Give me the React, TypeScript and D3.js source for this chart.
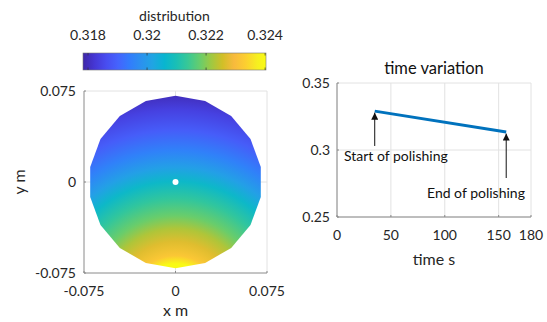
import React from "react";
import * as d3 from "d3";

// ---------- data ----------
// parula colormap anchors (MATLAB)
const parulaPos = [0, 4, 8, 12, 16, 20, 24, 28, 32, 36, 40, 44, 48, 52, 56, 60, 63].map((i) => i / 63);
const parulaRGB: [number, number, number][] = [
  [0.2422, 0.1504, 0.6603],
  [0.2706, 0.2147, 0.8364],
  [0.2813, 0.3006, 0.9414],
  [0.2699, 0.3892, 0.9906],
  [0.1963, 0.4847, 0.9892],
  [0.1687, 0.5703, 0.9359],
  [0.1248, 0.6459, 0.8883],
  [0.0297, 0.7082, 0.8163],
  [0.0964, 0.75, 0.712],
  [0.2161, 0.7843, 0.5923],
  [0.3909, 0.8029, 0.4354],
  [0.6174, 0.7876, 0.2612],
  [0.8203, 0.7498, 0.1535],
  [0.9728, 0.7298, 0.2394],
  [0.9892, 0.8136, 0.1885],
  [0.9628, 0.9373, 0.1265],
  [0.9769, 0.9839, 0.0805],
];

// colour limits of the distribution
const colorLimits = [0.31783, 0.32403];
const colorbarTicks = [0.318, 0.32, 0.322, 0.324];
const colorbarTickLabels = ["0.318", "0.32", "0.322", "0.324"];

// distribution field: value vs distance from the field's peak point (below the pad)
const fieldPeak = [0, -0.1];
const fieldDist = [0.029, 0.0324, 0.039, 0.0505, 0.0613, 0.072, 0.086, 0.1, 0.1115, 0.1256, 0.142, 0.1585, 0.171];
const fieldValue = [0.324, 0.324, 0.3232, 0.3227, 0.3223, 0.3218, 0.3213, 0.3207, 0.3201, 0.3195, 0.3189, 0.3184, 0.318];
const padRadius = 0.071;
const padSides = 18;

const mapTicks = [-0.075, 0, 0.075];
const mapTickLabels = ["-0.075", "0", "0.075"];

// time variation
const timeS = [35, 157];
const timeValue = [0.329, 0.3134];
const timeXTicks = [0, 50, 100, 150, 180];
const timeYTicks = [0.25, 0.3, 0.35];
const timeYTickLabels = ["0.25", "0.3", "0.35"];
const annotLabels = ["Start of polishing", "End of polishing"];
const annotTime = [35, 157];
const annotTail = [0.303, 0.2791];

// ---------- helpers ----------
const cmapScale = d3
  .scaleLinear<string>()
  .domain(parulaPos)
  .range(parulaRGB.map(([r, g, b]) => d3.rgb(r * 255, g * 255, b * 255).formatHex()))
  .interpolate(d3.interpolateRgb);
const valueToT = d3.scaleLinear().domain(colorLimits).range([0, 1]).clamp(true);
const colorOf = (v: number) => cmapScale(valueToT(v));

const FONT = "Lato, 'Open Sans', sans-serif";
const TXT = "#262626";
const AX = "#8a8a8a";
const GRID = "#e2e2e2";

export default function App() {
  // left map axes
  const mx = d3.scaleLinear().domain([-0.075, 0.075]).range([84, 267]);
  const my = d3.scaleLinear().domain([-0.075, 0.075]).range([273, 91]);

  // colorbar
  const cb = d3.scaleLinear().domain(colorLimits).range([83, 266]);
  const cbTop = 53, cbBot = 70;

  // right axes
  const tx = d3.scaleLinear().domain([0, 180]).range([337, 531]);
  const ty = d3.scaleLinear().domain([0.25, 0.35]).range([217, 83]);

  const polygon = d3.range(padSides).map((i) => {
    const a = Math.PI / 2 + (i * 2 * Math.PI) / padSides;
    return [mx(padRadius * Math.cos(a)), my(padRadius * Math.sin(a))];
  });
  const polyStr = polygon.map((p) => p.join(",")).join(" ");

  const gcx = mx(fieldPeak[0]);
  const gcy = my(fieldPeak[1]);
  const maxD = fieldDist[fieldDist.length - 1];
  const gr = mx(maxD) - mx(0);

  const line = d3
    .line<number>()
    .x((_, i) => tx(timeS[i]))
    .y((d) => ty(d));

  return (
    <svg
      width={547}
      height={322}
      style={{ position: "fixed", left: 0, top: 0, background: "#fff" }}
      fontFamily={FONT}
    >
      <defs>
        <radialGradient id="field" gradientUnits="userSpaceOnUse" cx={gcx} cy={gcy} r={gr}>
          {fieldDist.map((d, i) => (
            <stop key={i} offset={d / maxD} stopColor={colorOf(fieldValue[i])} />
          ))}
        </radialGradient>
        <linearGradient id="cbar" x1="0" x2="1" y1="0" y2="0">
          {parulaPos.map((p, i) => (
            <stop key={i} offset={p} stopColor={cmapScale(p)} />
          ))}
        </linearGradient>
        <marker id="ah" viewBox="0 0 10 10" refX="10" refY="5" markerWidth="7" markerHeight="7" orient="auto-start-reverse" markerUnits="userSpaceOnUse">
          <path d="M0,0 L10,5 L0,10 z" fill="#111" />
        </marker>
      </defs>

      {/* colorbar */}
      <text x={(cb.range()[0] + cb.range()[1]) / 2} y={21} fontSize={14} fill={TXT} textAnchor="middle">
        distribution
      </text>
      <rect x={cb.range()[0]} y={cbTop} width={cb.range()[1] - cb.range()[0]} height={cbBot - cbTop} fill="url(#cbar)" stroke="#777" strokeWidth={0.6} />
      {colorbarTicks.map((t, i) => (
        <g key={i}>
          <line x1={cb(t)} x2={cb(t)} y1={cbTop} y2={cbTop + 2.5} stroke="#333" strokeWidth={0.7} />
          <line x1={cb(t)} x2={cb(t)} y1={cbBot} y2={cbBot - 2.5} stroke="#333" strokeWidth={0.7} />
          <text x={cb(t)} y={40} fontSize={14} fill={TXT} textAnchor="middle">
            {colorbarTickLabels[i]}
          </text>
        </g>
      ))}

      {/* left map axes */}
      <line x1={mx(0)} x2={mx(0)} y1={my(0.075)} y2={my(-0.075)} stroke={GRID} />
      <line x1={mx(-0.075)} x2={mx(0.075)} y1={my(0)} y2={my(0)} stroke={GRID} />
      <line x1={mx(-0.075)} x2={mx(0.075)} y1={my(0.075)} y2={my(0.075)} stroke={GRID} />
      <line x1={mx(0.075)} x2={mx(0.075)} y1={my(0.075)} y2={my(-0.075)} stroke={GRID} />
      <polygon points={polyStr} fill="url(#field)" />
      <circle cx={mx(0)} cy={my(0)} r={3} fill="#fff" />
      <line x1={mx(-0.075)} x2={mx(-0.075)} y1={my(0.075)} y2={my(-0.075)} stroke={AX} />
      <line x1={mx(-0.075)} x2={mx(0.075)} y1={my(-0.075)} y2={my(-0.075)} stroke={AX} />
      {mapTicks.map((t, i) => (
        <g key={i}>
          <line x1={mx(-0.075)} x2={mx(-0.075) + 2} y1={my(t)} y2={my(t)} stroke={AX} />
          <line x1={mx(t)} x2={mx(t)} y1={my(-0.075)} y2={my(-0.075) - 2} stroke={AX} />
          <text x={76} y={my(t)} dy="0.35em" fontSize={14} fill={TXT} textAnchor="end">
            {mapTickLabels[i]}
          </text>
          <text x={mx(t)} y={291} dy="0.35em" fontSize={14} fill={TXT} textAnchor="middle">
            {mapTickLabels[i]}
          </text>
        </g>
      ))}
      <text x={mx(0)} y={310} dy="0.35em" fontSize={16} fill={TXT} textAnchor="middle">
        x m
      </text>
      <text transform={`translate(19,${my(0)}) rotate(-90)`} dy="0.35em" fontSize={16} fill={TXT} textAnchor="middle">
        y m
      </text>

      {/* right time axes */}
      {timeXTicks.map((t, i) => (
        <line key={"gx" + i} x1={tx(t)} x2={tx(t)} y1={ty(0.35)} y2={ty(0.25)} stroke={GRID} />
      ))}
      {timeYTicks.map((t, i) => (
        <line key={"gy" + i} x1={tx(0)} x2={tx(180)} y1={ty(t)} y2={ty(t)} stroke={GRID} />
      ))}
      <line x1={tx(0)} x2={tx(0)} y1={ty(0.35)} y2={ty(0.25)} stroke={AX} />
      <line x1={tx(0)} x2={tx(180)} y1={ty(0.25)} y2={ty(0.25)} stroke={AX} />
      {timeXTicks.map((t, i) => (
        <g key={"tx" + i}>
          <line x1={tx(t)} x2={tx(t)} y1={ty(0.25)} y2={ty(0.25) - 2} stroke={AX} />
          <text x={tx(t)} y={235} dy="0.35em" fontSize={14} fill={TXT} textAnchor="middle">
            {t}
          </text>
        </g>
      ))}
      {timeYTicks.map((t, i) => (
        <g key={"ty" + i}>
          <line x1={tx(0)} x2={tx(0) + 2} y1={ty(t)} y2={ty(t)} stroke={AX} />
          <text x={330} y={ty(t)} dy="0.35em" fontSize={14} fill={TXT} textAnchor="end">
            {timeYTickLabels[i]}
          </text>
        </g>
      ))}
      <text x={(tx(0) + tx(180)) / 2} y={68} dy="0.35em" fontSize={16.5} fill="#111" textAnchor="middle">
        time variation
      </text>
      <text x={(tx(0) + tx(180)) / 2} y={259} dy="0.35em" fontSize={16} fill={TXT} textAnchor="middle">
        time s
      </text>
      <path d={line(timeValue) || ""} fill="none" stroke="#0072BD" strokeWidth={3} />

      {/* annotations */}
      {annotTime.map((t, i) => (
        <line
          key={"ar" + i}
          x1={tx(t)}
          x2={tx(t)}
          y1={ty(annotTail[i])}
          y2={ty(timeValue[i]) + 1.5}
          stroke="#111"
          strokeWidth={1}
          markerEnd="url(#ah)"
        />
      ))}
      <text x={344} y={156} dy="0.35em" fontSize={14} fill="#111">
        {annotLabels[0]}
      </text>
      <text x={427} y={193} dy="0.35em" fontSize={14} fill="#111">
        {annotLabels[1]}
      </text>
    </svg>
  );
}
